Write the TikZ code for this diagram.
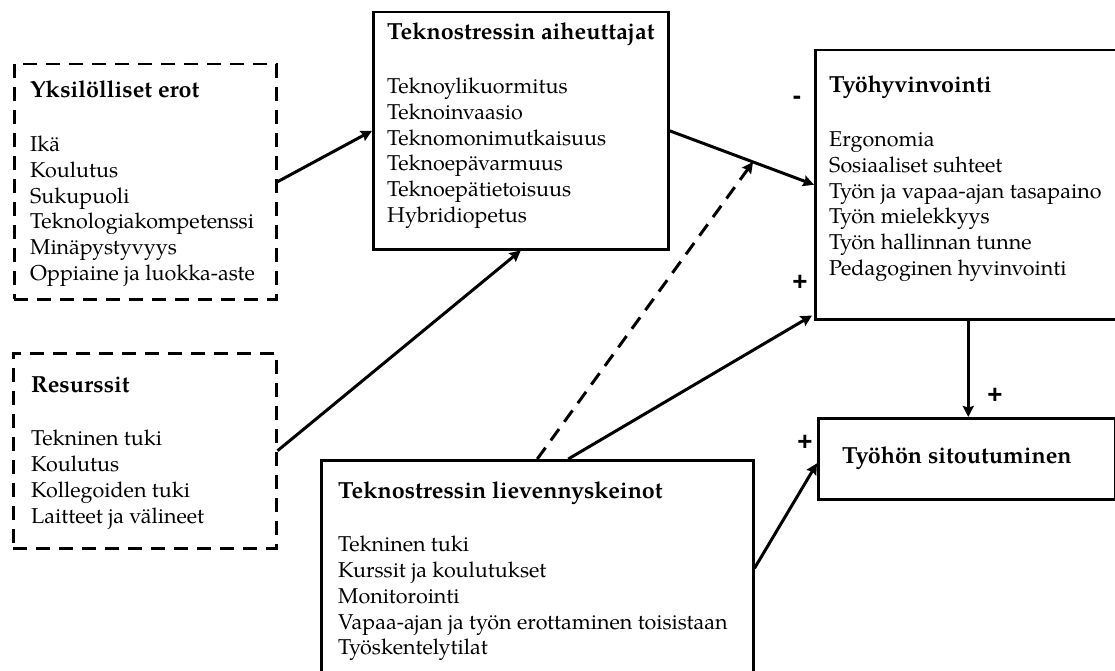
\documentclass[tikz,border=0pt]{standalone}
\usepackage{fontspec}
\setmainfont{texgyrepagella}[Extension=.otf,UprightFont=*-regular,BoldFont=*-bold,ItalicFont=*-italic,BoldItalicFont=*-bolditalic]
\newfontfamily\signfont{Liberation Sans}
\usetikzlibrary{arrows.meta,calc}
\newcommand\boxlines[1]{\begin{tabular}[t]{@{}l@{}}#1\end{tabular}}
\newcommand\boxtitle[1]{{\fontsize{23.3}{25.8}\selectfont\bfseries #1}}
\begin{document}
\begin{tikzpicture}[x=1pt,y=-1pt,
  box/.style={draw,line width=2.5pt,inner sep=0pt,anchor=north west},
  dbox/.style={box,dash pattern=on 14pt off 9pt},
  txt/.style={anchor=base west,inner sep=0pt,font=\fontsize{21.5}{25.8}\selectfont},
  link/.style={line width=3pt,-{Stealth[length=11pt,width=11pt,inset=1.5pt]}},
  sign/.style={font=\signfont\bfseries\fontsize{26}{26}\selectfont,inner sep=0pt}]
\useasboundingbox (0,0) rectangle (1115,671);
\clip (0,0) rectangle (1115,671);

% boxes
\node[dbox,minimum width=262pt,minimum height=235pt] (b1) at (13,63) {};
\node[dbox,minimum width=263pt,minimum height=195pt] (b2) at (12,352) {};
\node[box,minimum width=295pt,minimum height=237pt] (b3) at (372,11) {};
\node[box,minimum width=306pt,minimum height=269pt] (b4) at (814,49) {};
\node[box,minimum width=297pt,minimum height=81pt] (b5) at (817,417) {};
\node[box,minimum width=432pt,minimum height=216pt] (b6) at (320,459) {};

% box contents
\node[txt] (t1) at (30,98) {\boxlines{\boxtitle{Yksilölliset erot}\\ \\[2pt]
  Ikä\\ Koulutus\\ Sukupuoli\\ Teknologiakompetenssi\\ Minäpystyvyys\\ Oppiaine ja luokka-aste}};
\node[txt] (t2) at (31,392) {\boxlines{\boxtitle{Resurssit}\\ \\[2pt]
  Tekninen tuki\\ Koulutus\\ Kollegoiden tuki\\ Laitteet ja välineet}};
\node[txt] (t3) at (387,40) {\boxlines{\boxtitle{Teknostressin aiheuttajat}\\ \\[2pt]
  Teknoylikuormitus\\ Teknoinvaasio\\ Teknomonimutkaisuus\\ Teknoepävarmuus\\ Teknoepätietoisuus\\ Hybridiopetus}};
\node[txt] (t4) at (829,93) {\boxlines{\boxtitle{Työhyvinvointi}\\ \\[2pt]
  Ergonomia\\ Sosiaaliset suhteet\\ Työn ja vapaa-ajan tasapaino\\ Työn mielekkyys\\ Työn hallinnan tunne\\ Pedagoginen hyvinvointi}};
\node[txt] (t5) at (842,463) {\boxtitle{Työhön sitoutuminen}};
\node[txt] (t6) at (338,498) {\boxlines{\boxtitle{Teknostressin lievennyskeinot}\\ \\[2pt]
  Tekninen tuki\\ Kurssit ja koulutukset\\ Monitorointi\\ Vapaa-ajan ja työn erottaminen toisistaan\\ Työskentelytilat}};

% connectors
\draw[link] (b1.east) -- (b3.west);
\draw[link] (b2.east) -- (b3.south);
\draw[link] (b3.east) -- coordinate[pos=0.578] (m) (b4.west);
\draw[link,dash pattern=on 14pt off 9pt] (b6.north) -- (m);
\draw[link] ($(b6.north)+(31,0)$) -- ($(b4.south west)+(-2,-5)$);
\draw[link] (b6.east) -- ($(b5.west)+(0,4.5)$);
\draw[link] (b4.south) -- (b4.south |- b5.north);

% signs
\node[sign] (s1) at (797,100) {-};
\node[sign] (s2) at (800,283) {+};
\node[sign] (s3) at (995,396) {+};
\node[sign] (s4) at (805,443) {+};
\end{tikzpicture}
\end{document}
